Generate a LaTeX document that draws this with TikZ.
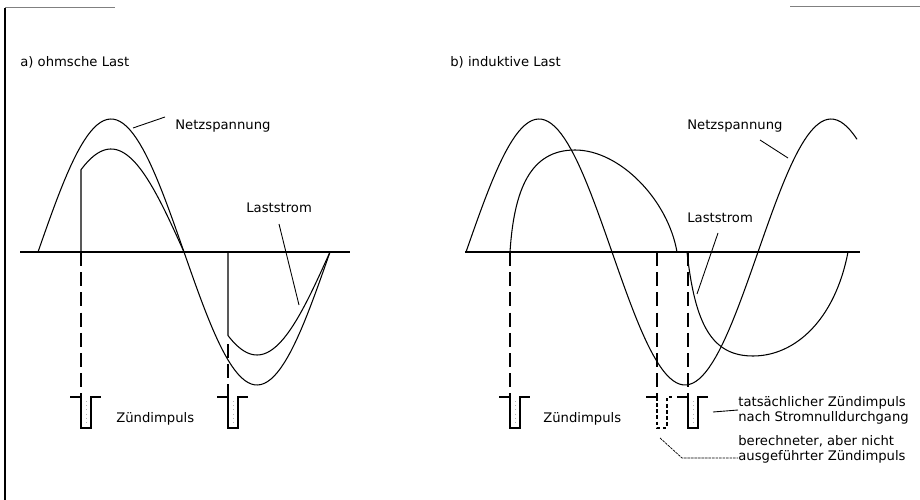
\documentclass[tikz,border=0pt]{standalone}
\usepackage{fontspec}
\setmainfont{DejaVu Sans}
\usepackage{tikz}
\usetikzlibrary{positioning}

\begin{document}
\begin{tikzpicture}[x=0.02cm, y=-0.02cm,
    every node/.style={font=\fontsize{7.5}{8.6}\selectfont, inner sep=0pt, anchor=west},
    curve/.style={line width=0.6pt, line join=round},
    leader/.style={line width=0.5pt},
    fineleader/.style={line width=0.4pt, dash pattern=on 1.5pt off 0.5pt},
    fireline/.style={line width=0.6pt, dash pattern=on 8pt off 3.5pt},
    pulsebox/.style={line width=0.6pt},
    ghost/.style={line width=0.6pt, dash pattern=on 2pt off 1.5pt}]
  \useasboundingbox (0,0) rectangle (920,500);
  % frame rests
  \draw[line width=0.8pt] (5,8) -- (5,500);
  \draw[gray, line width=0.4pt] (5,7) -- (115,7);
  \draw[gray, line width=0.4pt] (790,6) -- (920,6);

  % a) ohmsche Last
  \node (titA) at (20,62) {a) ohmsche Last};
  \draw[curve] (20,252) -- (350,252);
  \draw[curve] plot[domain=38:330, samples=90] (\x, {252-133*sin((\x-38)/146*180)});
  \draw[curve] (81,252) -- plot[domain=81:184, samples=50] (\x, {252-103*sin((\x-38)/146*180)});
  \draw[curve] (228,252) -- plot[domain=228:330, samples=50] (\x, {252-103*sin((\x-38)/146*180)});
  \draw[fireline] (81,252) -- (81,397);
  \draw[fireline] (228,344) -- (228,397);
  \node (netzA) at (175,126) {Netzspannung};
  \coordinate (netzAp) at (133,128);
  \coordinate (netzAq) at (165,117);
  \draw[leader] (netzAp) -- (netzAq);
  \node (lastA) at (246,208) {Laststrom};
  \coordinate (lastAp) at (299,305);
  \coordinate (lastAq) at (279,224);
  \draw[leader] (lastAp) -- (lastAq);
  \node (zuendA) at (116,419) {Zündimpuls};

  % b) induktive Last
  \node (titB) at (450,62) {b) induktive Last};
  \draw[curve] (465,252) -- (860,252);
  \draw[curve] plot[domain=466:857, samples=120] (\x, {252-133*sin((\x-466)/146*180)});
  \draw[curve] (510,252) .. controls (514,190) and (530,150) .. (575,150)
                         .. controls (620,150) and (668,200) .. (677,252);
  \draw[curve] (687,252) .. controls (695,325) and (712,356) .. (753,356)
                         .. controls (795,356) and (835,320) .. (848,252);
  \draw[fireline] (510,252) -- (510,397);
  \draw[fireline] (657,252) -- (657,397);
  \draw[fireline] (688,252) -- (688,397);
  \node (netzB) at (687,126) {Netzspannung};
  \coordinate (netzBp) at (788,158);
  \coordinate (netzBq) at (760,140);
  \draw[leader] (netzBp) -- (netzBq);
  \node (lastB) at (687,218) {Laststrom};
  \coordinate (lastBp) at (697,294);
  \coordinate (lastBq) at (718,233);
  \draw[leader] (lastBp) -- (lastBq);
  \node (zuendB) at (543,419) {Zündimpuls};
  \node[align=left] (tatB) at (738,410) {tatsächlicher Zündimpuls\\nach Stromnulldurchgang};
  \node[align=left, below=6pt of tatB.south west, anchor=north west] (berB)
       {berechneter, aber nicht\\ausgeführter Zündimpuls};
  \coordinate (tatBp) at (713,412);
  \draw[leader] (tatBp) -- (tatB.west);
  \coordinate (berBp) at (660,438);
  \coordinate (berBk) at (682,458);
  \draw[fineleader] (berBp) -- (berBk) -- (berB.west |- berBk);

  % firing pulses
  \foreach \p in {81,228,510,688} {
    \draw[pulsebox] (\p-11,397) -- ++(11,0) -- ++(0,31) -- ++(10,0) -- ++(0,-31) -- ++(10,0);
    \draw[gray!60, dotted] (\p+5,401) -- (\p+5,425);
  }
  \draw[pulsebox] (646,397) -- (657,397);
  \draw[ghost] (657,397) -- ++(0,31) -- ++(10,0) -- ++(0,-31) -- ++(6,0);
\end{tikzpicture}
\end{document}
